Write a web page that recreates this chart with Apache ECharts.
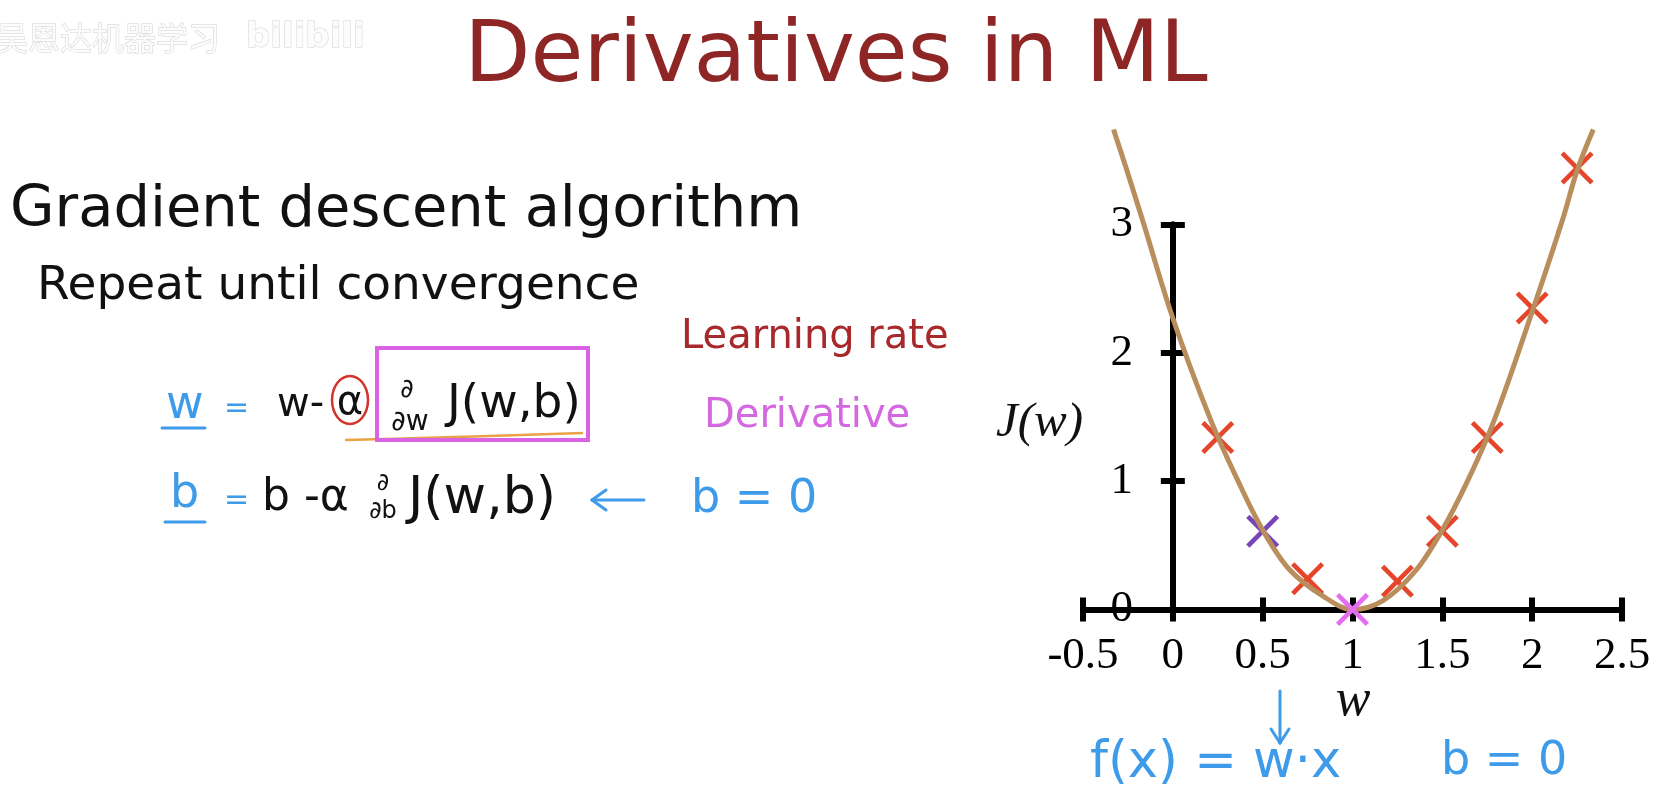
<!DOCTYPE html>
<html>
<head>
<meta charset="utf-8">
<script src="https://cdn.jsdelivr.net/npm/echarts/dist/echarts.min.js"></script>
<style>
html,body{margin:0;padding:0;background:#fff;}
#c{width:1668px;height:792px;}
</style>
</head>
<body>
<div id="c"></div>
<script>
// ---- data ----
var curvePoints = [[-0.33,3.74],[-0.26,3.44],[-0.17,3.04],[0,2.27],[0.21,1.48],[0.36,1.01],[0.5,0.62],[0.65,0.31],[0.84,0.1],[1,0],[1.17,0.07],[1.35,0.3],[1.5,0.62],[1.64,1.0],[1.79,1.48],[2,2.32],[2.17,3.04],[2.25,3.42],[2.34,3.74]];
var redPoints = [[0.25,1.34],[0.75,0.24],[1.25,0.22],[1.5,0.61],[1.75,1.34],[2,2.35],[2.25,3.44]];
var purplePoints = [[0.5,0.61]];
var pinkPoints = [[1,0]];
var xRange = [-0.5, 2.5];
var yRange = [0, 3];

var crossPath = 'path://M1,0 L5,4 L9,0 L10,1 L6,5 L10,9 L9,10 L5,6 L1,10 L0,9 L4,5 L0,1 Z';
var BLUE = '#3d9be9';
var SANS = 'DejaVu Sans';

function txt(t, x, y, size, color, opts) {
  opts = opts || {};
  return {
    type: 'text', x: x, y: y, z: 10,
    style: {
      text: t,
      font: (opts.style || '') + ' ' + size + 'px "' + (opts.family || SANS) + '"',
      fill: color,
      stroke: opts.stroke, lineWidth: opts.lw || 0,
      align: opts.align || 'left', textAlign: opts.align || 'left',
      verticalAlign: 'middle', textVerticalAlign: 'middle'
    }
  };
}
function ln(x1, y1, x2, y2, color, w) {
  return {type: 'line', z: 10, shape: {x1: x1, y1: y1, x2: x2, y2: y2},
    style: {stroke: color, lineWidth: w, lineCap: 'round'}};
}

function axisCommon(extra) {
  var base = {
    type: 'value',
    splitLine: {show: false},
    axisLine: {show: true, onZero: true, onZeroAxisIndex: 0, lineStyle: {color: '#000', width: 6}},
    axisTick: {show: true, length: 12, lineStyle: {color: '#000', width: 6}}
  };
  for (var k in extra) base[k] = extra[k];
  return base;
}

var labelStyle = {color: '#000', fontSize: 45, fontFamily: 'Liberation Serif'};

var option = {
  animation: false,
  backgroundColor: '#fff',
  grid: {left: 1083, top: 224.5, width: 539, height: 385},
  xAxis: [
    axisCommon({min: xRange[0], max: xRange[1], interval: 0.5, position: 'bottom',
      axisLabel: Object.assign({margin: 24}, labelStyle)}),
    axisCommon({min: xRange[0], max: xRange[1], interval: 0.5, position: 'bottom',
      axisTick: {show: true, inside: true, length: 12, lineStyle: {color: '#000', width: 6}},
      axisLabel: {show: false}})
  ],
  yAxis: [
    axisCommon({min: yRange[0], max: yRange[1], interval: 1, position: 'left',
      axisLabel: Object.assign({margin: -50}, labelStyle)}),
    axisCommon({min: yRange[0], max: yRange[1], interval: 1, position: 'left',
      axisTick: {show: true, inside: true, length: 12, lineStyle: {color: '#000', width: 6}},
      axisLabel: {show: false}})
  ],
  series: [
    {type: 'scatter', data: redPoints, symbol: crossPath, symbolSize: 33, clip: false, z: 3,
      itemStyle: {color: '#e5462b', opacity: 1}},
    {type: 'scatter', data: purplePoints, symbol: crossPath, symbolSize: 33, clip: false, z: 3,
      itemStyle: {color: '#7845b9', opacity: 1}},
    {type: 'line', data: curvePoints, smooth: 0.35, showSymbol: false, symbol: 'none', clip: false, z: 4,
      lineStyle: {color: '#b98e5c', width: 5}},
    {type: 'scatter', data: pinkPoints, symbol: crossPath, symbolSize: 33, clip: false, z: 5,
      itemStyle: {color: '#e36cf0', opacity: 1}}
  ],
  graphic: [
    // watermark
    txt('吴恩达机器学习', -4, 38, 32, '#fcfcfc', {family: 'Noto Sans CJK SC', stroke: '#d2d2d2', lw: 1}),
    txt('bilibili', 246, 38, 34, '#fcfcfc', {stroke: '#d2d2d2', lw: 1, style: 'bold'}),
    // title
    txt('Derivatives in ML', 836, 59, 86, '#8e2626', {align: 'center'}),
    txt('Gradient descent algorithm', 10, 211, 57.5, '#111'),
    txt('Repeat until convergence', 37, 287, 47, '#111'),
    // row 1
    txt('w', 166, 406, 46, BLUE),
    ln(162, 428, 205, 428, BLUE, 3),
    txt('=', 224, 409, 30, BLUE),
    txt('w-', 277, 406, 40, '#111'),
    txt('α', 350, 404, 40, '#111', {align: 'center'}),
    {type: 'ellipse', z: 10, shape: {cx: 350, cy: 400, rx: 18, ry: 24},
      style: {fill: 'none', stroke: '#d1352d', lineWidth: 2.5}},
    txt('∂', 407, 390, 26, '#111', {align: 'center'}),
    txt('∂w', 410, 423, 28, '#111', {align: 'center'}),
    txt('J(w,b)', 447, 405, 47, '#111'),
    {type: 'rect', z: 11, shape: {x: 377, y: 348, width: 211, height: 92},
      style: {fill: 'none', stroke: '#da63e4', lineWidth: 4}},
    {type: 'polyline', z: 10, shape: {points: [[345, 440], [420, 438], [583, 433]], smooth: 0.4},
      style: {fill: 'none', stroke: '#eaa146', lineWidth: 2.5}},
    // row 2
    txt('b', 170, 495, 46, BLUE),
    ln(165, 522, 205, 522, BLUE, 3),
    txt('=', 224, 501, 30, BLUE),
    txt('b -α', 262, 499, 44, '#111'),
    txt('∂', 383, 484, 24, '#111', {align: 'center'}),
    txt('∂b', 383, 512, 24, '#111', {align: 'center'}),
    txt('J(w,b)', 408, 499, 52, '#111'),
    ln(592, 500, 644, 500, BLUE, 3),
    ln(592, 500, 606, 490, BLUE, 3),
    ln(592, 500, 606, 510, BLUE, 3),
    txt('b = 0', 691, 500, 46, BLUE),
    // labels
    txt('Learning rate', 681, 338, 40, '#a8292b'),
    txt('Derivative', 704, 417, 40, '#d468e0'),
    // axis names
    txt('J(w)', 1083, 423, 49, '#111', {family: 'Liberation Serif', style: 'italic', align: 'right'}),
    txt('w', 1353, 701, 52, '#111', {family: 'Liberation Serif', style: 'italic', align: 'center'}),
    // bottom annotation
    ln(1280, 691, 1280, 743, BLUE, 3),
    ln(1280, 743, 1271, 729, BLUE, 3),
    ln(1280, 743, 1289, 729, BLUE, 3),
    txt('f(x) = w·x', 1090, 764, 51, BLUE),
    txt('b = 0', 1441, 762, 46, BLUE)
  ]
};
var chart = echarts.init(document.getElementById('c'), null, {renderer: 'canvas'});
chart.setOption(option);
</script>
</body>
</html>
